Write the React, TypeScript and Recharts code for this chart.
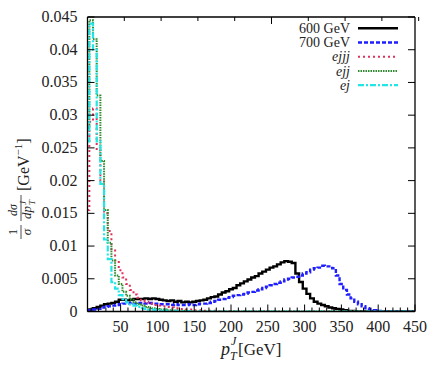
import React from 'react';
import { LineChart, Line, XAxis, YAxis, Legend } from 'recharts';

// histogram bins: 5 GeV wide, centres 5 ... 450
const BIN_START = 5;
const BIN_WIDTH = 5;

const SIG_600 = [
  0.0001, 0.0003, 0.0005, 0.0007, 0.0009, 0.0011, 0.0012, 0.0013, 0.0015, 0.0018,
  0.0018, 0.0017, 0.0018, 0.0019, 0.0019, 0.0019, 0.002, 0.0019, 0.002, 0.0019,
  0.0018, 0.0017, 0.0016, 0.0017, 0.0015, 0.0016, 0.0014, 0.0015, 0.0014, 0.0015,
  0.0016, 0.0017, 0.0018, 0.002, 0.0022, 0.0023, 0.0026, 0.0029, 0.0031, 0.0034,
  0.0036, 0.004, 0.0043, 0.0046, 0.0049, 0.0052, 0.0054, 0.0058, 0.0061, 0.0064,
  0.0067, 0.0069, 0.0072, 0.0075, 0.0077, 0.0076, 0.0074, 0.0058, 0.0045, 0.0035,
  0.0027, 0.002, 0.0015, 0.0012, 0.001, 0.0008, 0.0006, 0.0005, 0.0004, 0.0003,
  0.0002, 0.0001, 0.0001, 0.00005, 0, 0, 0, 0, 0, 0,
  0, 0, 0, 0, 0, 0, 0, 0, 0, 0,
];

const SIG_700 = [
  0.0001, 0.0002, 0.0003, 0.0004, 0.0006, 0.0007, 0.0008, 0.0009, 0.001, 0.0011,
  0.0012, 0.0012, 0.0013, 0.0012, 0.0013, 0.0013, 0.0012, 0.0013, 0.0012, 0.0012,
  0.0011, 0.0011, 0.0011, 0.001, 0.0011, 0.001, 0.001, 0.001, 0.0011, 0.001,
  0.0011, 0.0012, 0.0012, 0.0013, 0.0015, 0.0016, 0.0018, 0.0019, 0.0021, 0.0022,
  0.0024, 0.0025, 0.0026, 0.0027, 0.0029, 0.003, 0.0032, 0.0034, 0.0036, 0.0038,
  0.004, 0.0042, 0.0044, 0.0046, 0.0049, 0.005, 0.0052, 0.0053, 0.0055, 0.0058,
  0.006, 0.0064, 0.0066, 0.0067, 0.007, 0.0069, 0.0069, 0.0066, 0.0055, 0.0042,
  0.0033, 0.0026, 0.002, 0.0015, 0.0011, 0.0008, 0.0005, 0.0003, 0.0002, 0.0001,
  0.0001, 0.00005, 0.00005, 0, 0, 0, 0, 0, 0, 0,
];

const EJJJ = [
  0.0155, 0.029, 0.031, 0.0246, 0.02, 0.015, 0.0123, 0.0095, 0.0078, 0.0063,
  0.0052, 0.0042, 0.0033, 0.0026, 0.0021, 0.0017, 0.0015, 0.0013, 0.0012, 0.001,
  0.0009, 0.0008, 0.0007, 0.0006, 0.0005, 0.0004, 0.0004, 0.0003, 0.0003, 0.0002,
  0.0002, 0.0002, 0.0001, 0.0001, 0.0001, 0.0001, 0.00005, 0.00005, 0.00005, 0.00005,
  0, 0, 0, 0, 0, 0, 0, 0, 0, 0,
  0, 0, 0, 0, 0, 0, 0, 0, 0, 0,
  0, 0, 0, 0, 0, 0, 0, 0, 0, 0,
  0, 0, 0, 0, 0, 0, 0, 0, 0, 0,
  0, 0, 0, 0, 0, 0, 0, 0, 0, 0,
];

const EJJ = [
  0.028, 0.0445, 0.0416, 0.033, 0.023, 0.0155, 0.0105, 0.0078, 0.0055, 0.0042,
  0.003, 0.0024, 0.0018, 0.0014, 0.0011, 0.0009, 0.0007, 0.0006, 0.0005, 0.0004,
  0.0003, 0.0003, 0.0002, 0.0002, 0.00015, 0.0001, 0.0001, 0.0001, 0.00005, 0.00005,
  0, 0, 0, 0, 0, 0, 0, 0, 0, 0,
  0, 0, 0, 0, 0, 0, 0, 0, 0, 0,
  0, 0, 0, 0, 0, 0, 0, 0, 0, 0,
  0, 0, 0, 0, 0, 0, 0, 0, 0, 0,
  0, 0, 0, 0, 0, 0, 0, 0, 0, 0,
  0, 0, 0, 0, 0, 0, 0, 0, 0, 0,
];

const EJ = [
  0.026, 0.044, 0.04, 0.026, 0.0195, 0.011, 0.008, 0.0045, 0.0035, 0.0025,
  0.0019, 0.0014, 0.0011, 0.0009, 0.0007, 0.0005, 0.0004, 0.0003, 0.0003, 0.0002,
  0.0002, 0.00015, 0.0001, 0.0001, 0.0001, 0.00005, 0.00005, 0.00005, 0, 0,
  0, 0, 0, 0, 0, 0, 0, 0, 0, 0,
  0, 0, 0, 0, 0, 0, 0, 0, 0, 0,
  0, 0, 0, 0, 0, 0, 0, 0, 0, 0,
  0, 0, 0, 0, 0, 0, 0, 0, 0, 0,
  0, 0, 0, 0, 0, 0, 0, 0, 0, 0,
  0, 0, 0, 0, 0, 0, 0, 0, 0, 0,
];

const X_TICKS = [10, 20, 30, 40, 50, 60, 70, 80, 90, 100, 110, 120, 130, 140, 150, 160, 170, 180, 190, 200,
  210, 220, 230, 240, 250, 260, 270, 280, 290, 300, 310, 320, 330, 340, 350, 360, 370, 380, 390, 400,
  410, 420, 430, 440, 450];
const Y_TICKS = [0, 0.005, 0.01, 0.015, 0.02, 0.025, 0.03, 0.035, 0.04, 0.045];

const SERIES = [
  { key: 'sig600', name: '600 GeV', italic: false, color: '#000000', width: 2.4, dash: undefined },
  { key: 'sig700', name: '700 GeV', italic: false, color: '#1f1fff', width: 2.4, dash: '4 2' },
  { key: 'ejjj', name: 'ejjj', italic: true, color: '#e0305a', width: 2, dash: '2 3' },
  { key: 'ejj', name: 'ejj', italic: true, color: '#2e8b2e', width: 2, dash: '1.5 1' },
  { key: 'ej', name: 'ej', italic: true, color: '#22e6e6', width: 2.2, dash: '6 2 2 2' },
];

const data = SIG_600.map((_, i) => ({
  pt: BIN_START + i * BIN_WIDTH,
  sig600: SIG_600[i],
  sig700: SIG_700[i],
  ejjj: EJJJ[i],
  ejj: EJJ[i],
  ej: EJ[i],
}));

const FONT = '"Liberation Serif", "DejaVu Serif", serif';

const BottomTick = (props: any) => {
  const { x, y, payload } = props;
  const major = payload.value % 50 === 0;
  return (
    <g>
      <line x1={x} x2={x} y1={y} y2={y - (major ? 7 : 4)} stroke="#000" strokeWidth={1} />
      {major && (
        <text x={x} y={y + 20} textAnchor="middle" fontFamily={FONT} fontSize={16} fill="#222">
          {payload.value}
        </text>
      )}
    </g>
  );
};

const TopTick = (props: any) => {
  const { x, y, payload } = props;
  const major = payload.value % 50 === 0;
  return <line x1={x} x2={x} y1={y} y2={y + (major ? 7 : 4)} stroke="#000" strokeWidth={1} />;
};

const LeftTick = (props: any) => {
  const { x, y, payload } = props;
  return (
    <g>
      <line x1={x} x2={x + 7} y1={y} y2={y} stroke="#000" strokeWidth={1} />
      <text x={x - 10} y={y + 5} textAnchor="end" fontFamily={FONT} fontSize={16} fill="#222">
        {String(payload.value)}
      </text>
    </g>
  );
};

const RightTick = (props: any) => {
  const { x, y } = props;
  return <line x1={x} x2={x - 7} y1={y} y2={y} stroke="#000" strokeWidth={1} />;
};

const XTitle = () => (
  <g fontFamily={FONT} fill="#222">
    <text x={221} y={355} fontSize={18} fontStyle="italic">p</text>
    <text x={231} y={345} fontSize={12} fontStyle="italic">J</text>
    <text x={230} y={360} fontSize={12} fontStyle="italic">T</text>
    <text x={238} y={355} fontSize={17}>[GeV]</text>
  </g>
);

// rotated y title: rotate(-90) maps (a, b) -> screen (b, -a)
const YTitle = () => (
  <g fontFamily={FONT} fill="#222" transform="rotate(-90)">
    <text x={-232} y={17} fontSize={12} textAnchor="middle">1</text>
    <line x1={-239} x2={-225} y1={21} y2={21} stroke="#222" strokeWidth={0.8} />
    <text x={-232} y={31} fontSize={13} fontStyle="italic" textAnchor="middle">σ</text>
    <text x={-210} y={17} fontSize={12} fontStyle="italic" textAnchor="middle">dσ</text>
    <line x1={-221} x2={-195} y1={21} y2={21} stroke="#222" strokeWidth={0.8} />
    <text x={-219} y={31} fontSize={13} fontStyle="italic">dp</text>
    <text x={-205} y={26} fontSize={9} fontStyle="italic">J</text>
    <text x={-205} y={35} fontSize={9} fontStyle="italic">T</text>
    <text x={-191} y={29} fontSize={16}>
      [GeV
      <tspan dy={-7} fontSize={11}>−1</tspan>
      <tspan dy={7} fontSize={16}>]</tspan>
    </text>
  </g>
);

const renderLegend = () => (
  <svg width={170} height={80}>
    {SERIES.map((s, i) => (
      <g key={s.key}>
        <text
          x={103}
          y={15 + i * 14.2}
          textAnchor="end"
          fontFamily={FONT}
          fontSize={14}
          fontStyle={s.italic ? 'italic' : 'normal'}
          fill="#222"
        >
          {s.name}
        </text>
        <line
          x1={111}
          x2={151}
          y1={10.3 + i * 14.2}
          y2={10.3 + i * 14.2}
          stroke={s.color}
          strokeWidth={s.width}
          strokeDasharray={s.dash}
        />
      </g>
    ))}
  </svg>
);

export default function App() {
  return (
    <div style={{ position: 'absolute', left: 0, top: 0, width: 440, height: 367, background: '#fff' }}>
      <LineChart width={440} height={367} data={data} margin={{ top: 15, right: 20, bottom: 15, left: 27.5 }}>
        <XAxis
          dataKey="pt"
          type="number"
          domain={[5, 450]}
          ticks={X_TICKS}
          interval={0}
          allowDataOverflow
          height={40.5}
          tickSize={0}
          tickMargin={0}
          tickLine={false}
          axisLine={{ stroke: '#000', strokeWidth: 1.3 }}
          tick={<BottomTick />}
          label={<XTitle />}
        />
        <XAxis
          xAxisId="top"
          orientation="top"
          type="number"
          domain={[5, 450]}
          ticks={X_TICKS}
          interval={0}
          allowDataOverflow
          height={2}
          tickSize={0}
          tickMargin={0}
          tickLine={false}
          axisLine={{ stroke: '#000', strokeWidth: 1.3 }}
          tick={<TopTick />}
        />
        <YAxis
          type="number"
          domain={[0, 0.045]}
          ticks={Y_TICKS}
          interval={0}
          allowDataOverflow
          width={60}
          tickSize={0}
          tickMargin={0}
          tickLine={false}
          axisLine={{ stroke: '#000', strokeWidth: 1.3 }}
          tick={<LeftTick />}
          label={<YTitle />}
        />
        <YAxis
          yAxisId="right"
          orientation="right"
          type="number"
          domain={[0, 0.045]}
          ticks={Y_TICKS}
          interval={0}
          allowDataOverflow
          width={5}
          tickSize={0}
          tickMargin={0}
          tickLine={false}
          axisLine={{ stroke: '#000', strokeWidth: 1.3 }}
          tick={<RightTick />}
        />
        <Legend
          layout="vertical"
          align="center"
          verticalAlign="middle"
          content={renderLegend}
          wrapperStyle={{ position: 'absolute', left: 247, top: 18, width: 170, height: 80 }}
        />
        {SERIES.map((s) => (
          <Line
            key={s.key}
            type="step"
            dataKey={s.key}
            name={s.name}
            stroke={s.color}
            strokeWidth={s.width}
            strokeDasharray={s.dash}
            dot={false}
            activeDot={false}
            isAnimationActive={false}
          />
        ))}
      </LineChart>
    </div>
  );
}
